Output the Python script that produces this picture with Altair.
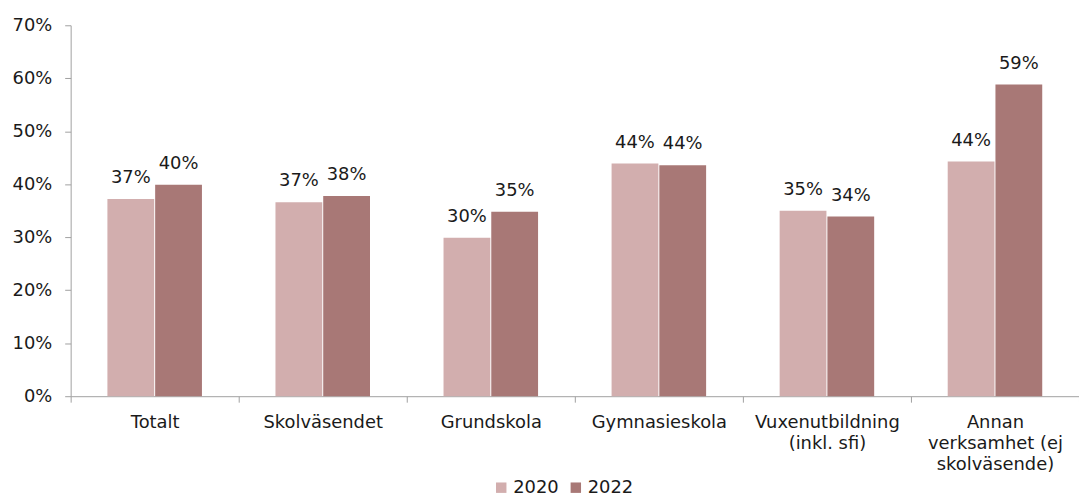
import altair as alt
import pandas as pd

categories = ["Totalt", "Skolväsendet", "Grundskola", "Gymnasieskola",
              "Vuxenutbildning|(inkl. sfi)", "Annan|verksamhet (ej|skolväsende)"]
years = ["2020", "2022"]
values_2020 = [0.372, 0.366, 0.299, 0.439, 0.350, 0.443]
values_2022 = [0.399, 0.378, 0.348, 0.436, 0.339, 0.588]
colors = ["#d2aeae", "#a87876"]

rows = []
for c, a, b in zip(categories, values_2020, values_2022):
    rows.append({"cat": c, "year": "2020", "v": a})
    rows.append({"cat": c, "year": "2022", "v": b})
df = pd.DataFrame(rows)

FONT = "DejaVu Sans"
FS = 18

x = alt.X("cat:N", sort=categories, title=None,
          scale=alt.Scale(paddingInner=0, paddingOuter=0),
          axis=alt.Axis(labelExpr="split(datum.label, '|')", labelAngle=0,
                        tickBand="extent", tickSize=6, labelPadding=11,
                        labelLineHeight=21.5, labelFontSize=FS, labelFont=FONT,
                        labelColor="#1a1a1a", domainColor="#a0a0a0",
                        tickColor="#a0a0a0", labelBaseline="top"))
xo = alt.XOffset("year:N", sort=years,
                 scale=alt.Scale(paddingInner=0.02, paddingOuter=0.77))
y = alt.Y("v:Q", title=None,
          scale=alt.Scale(domain=[0, 0.7], nice=False),
          axis=alt.Axis(format=".0%", values=[0, .1, .2, .3, .4, .5, .6, .7],
                        grid=False, tickSize=6, labelPadding=13,
                        labelFontSize=FS, labelFont=FONT, labelColor="#1a1a1a",
                        domainColor="#a0a0a0", tickColor="#a0a0a0"))

base = alt.Chart(df)
bars = base.mark_bar().encode(
    x=x, xOffset=xo, y=y,
    color=alt.Color("year:N", sort=years,
                    scale=alt.Scale(domain=years, range=colors),
                    legend=alt.Legend(title=None, orient="none", legendX=424,
                                      legendY=456, direction="horizontal",
                                      symbolType="square", symbolSize=110,
                                      symbolStrokeWidth=0, labelFontSize=FS,
                                      labelFont=FONT, labelColor="#1a1a1a",
                                      columnPadding=8, labelOffset=3,
                                      padding=0)))
labels = base.mark_text(baseline="middle", dy=-21, fontSize=FS, font=FONT,
                        color="#1a1a1a").encode(
    x=x, xOffset=xo, y=y, text=alt.Text("v:Q", format=".0%"))

chart = alt.layer(bars, labels).properties(
    width=1014, height=373,
    autosize=alt.AutoSizeParams(type="none"),
    padding={"left": 63, "top": 16, "right": 0, "bottom": 100},
).configure_view(stroke=None)

chart.save("out.html", embed_options={"renderer": "svg", "actions": False})
